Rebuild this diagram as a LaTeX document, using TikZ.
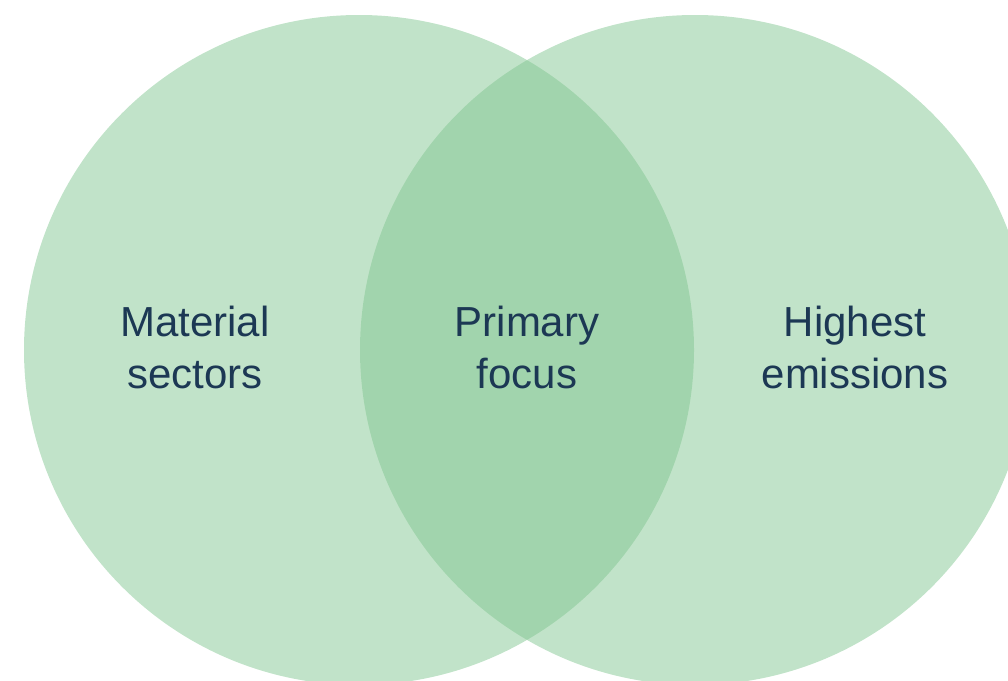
\documentclass[tikz,border=0pt]{standalone}
\usepackage{fontspec}
\setmainfont{Liberation Sans}
\definecolor{setgreen}{RGB}{127,197,143}
\definecolor{labelnavy}{RGB}{28,56,84}
\begin{document}
\begin{tikzpicture}[x=1pt,y=-1pt,
  setdisc/.style={fill=setgreen,fill opacity=0.484,draw=none},
  setlabel/.style={text=labelnavy,align=center,inner sep=0pt,
    font=\fontsize{42}{52}\selectfont}]
  \useasboundingbox (0,0) rectangle (1008,680);
  % the two overlapping sets
  \begin{scope}
    \clip (0,0) rectangle (1008,680);
    \fill[setdisc] (359,350) circle[radius=335];
    \fill[setdisc] (695,350) circle[radius=335];
  \end{scope}
  % labels
  \node[setlabel] (material) at (195,347) {Material\\sectors};
  \node[setlabel] (focus) at (527,347) {Primary\\focus};
  \node[setlabel] (emissions) at (855,347) {Highest\\emissions};
\end{tikzpicture}
\end{document}
